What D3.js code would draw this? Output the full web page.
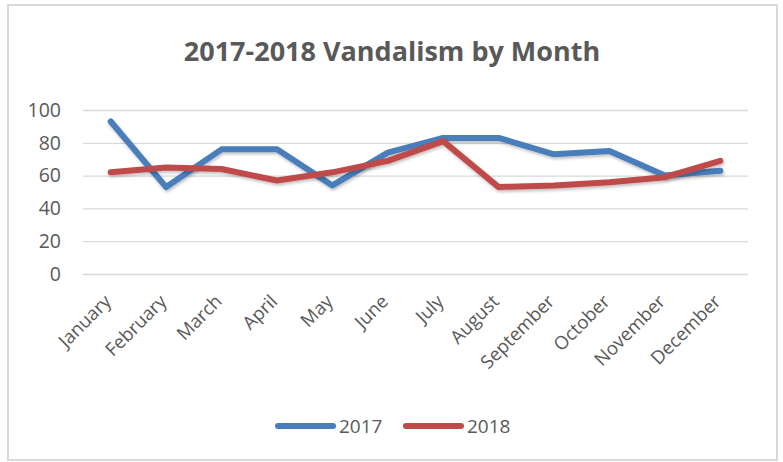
<!DOCTYPE html>
<html><head><meta charset="utf-8">
<script src="https://cdn.jsdelivr.net/npm/d3@7"></script>
<style>body{margin:0;background:#fff}svg{display:block}</style>
</head><body>
<svg id="c" width="783" height="462"></svg>
<script>
const months = ["January","February","March","April","May","June","July","August","September","October","November","December"];
const values2017 = [93, 53, 76, 76, 54, 74, 83, 83, 73, 75, 60, 63];
const values2018 = [62, 65, 64, 57, 62, 69, 81, 53, 54, 56, 59, 69];
const yTicks = [0, 20, 40, 60, 80, 100];
const seriesNames = ["2017", "2018"];
const colors = ["#4A7EBB", "#BE4B48"];

const svg = d3.select("#c");
const font = "'Open Sans', 'Liberation Sans', sans-serif";
const textColor = "#595959";

svg.append("rect").attr("x", 8).attr("y", 5).attr("width", 769).attr("height", 455)
  .attr("fill", "#fff").attr("stroke", "#d9d9d9").attr("stroke-width", 2);

const x = d3.scaleBand().domain(months).range([83, 748]);
const y = d3.scaleLinear().domain([0, 100]).range([274, 110]);

svg.append("text").attr("x", 392).attr("y", 61).attr("text-anchor", "middle")
  .attr("font-family", font).attr("font-weight", "bold").attr("font-size", 27)
  .attr("fill", textColor).text("2017-2018 Vandalism by Month");

// gridlines
const yAxis = d3.axisLeft(y).tickValues(yTicks).tickSize(-(748 - 83)).tickPadding(22);
const gy = svg.append("g").attr("transform", "translate(83,0)").call(yAxis);
gy.select(".domain").remove();
gy.selectAll(".tick line").attr("stroke", "#d9d9d9").attr("stroke-width", 1.3);
gy.selectAll(".tick text").attr("font-family", font).attr("font-size", 19.5).attr("fill", textColor);

// x axis labels
const xAxis = d3.axisBottom(x).tickSize(0).tickPadding(0);
const gx = svg.append("g").attr("transform", "translate(-3,298)").call(xAxis);
gx.select(".domain").remove();
gx.selectAll(".tick text").attr("font-family", font).attr("font-size", 18.5).attr("fill", textColor)
  .attr("text-anchor", "end").attr("dy", "0.35em").attr("y", 0).attr("transform", "rotate(-45)");

const line = d3.line().x((d, i) => x(months[i]) + x.bandwidth() / 2).y(d => y(d));
const defs = svg.append("defs");
defs.append("filter").attr("id", "sh").attr("x", "-10%").attr("y", "-30%").attr("width", "120%").attr("height", "160%")
  .append("feDropShadow").attr("dx", 1).attr("dy", 2).attr("stdDeviation", 1.5).attr("flood-color", "#000").attr("flood-opacity", 0.25);

[values2017, values2018].forEach((vals, k) => {
  svg.append("path").datum(vals).attr("d", line).attr("fill", "none")
    .attr("stroke", colors[k]).attr("stroke-width", 6).attr("stroke-linejoin", "round")
    .attr("stroke-linecap", "round").attr("filter", "url(#sh)");
});

// legend
const legX = [278, 406];
seriesNames.forEach((n, k) => {
  svg.append("line").attr("x1", legX[k]).attr("x2", legX[k] + 55).attr("y1", 426).attr("y2", 426)
    .attr("stroke", colors[k]).attr("stroke-width", 6).attr("stroke-linecap", "round");
  svg.append("text").attr("x", legX[k] + 61).attr("y", 433).attr("font-family", font)
    .attr("font-size", 19).attr("fill", textColor).text(n);
});
</script>
</body></html>
